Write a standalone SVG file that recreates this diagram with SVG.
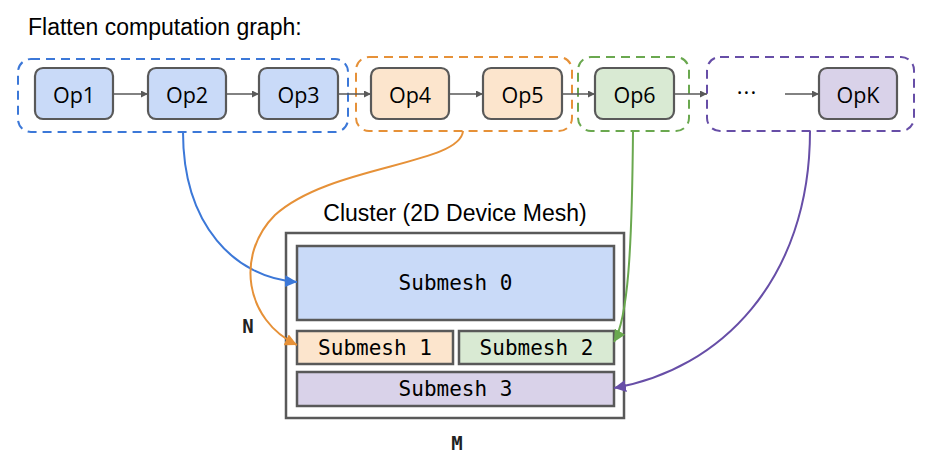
<svg xmlns="http://www.w3.org/2000/svg" width="948" height="461" viewBox="0 0 948 461">
<style>
.title{font-family:"Liberation Sans",Arial,sans-serif;font-size:23px;fill:#000}
.op rect{stroke:#595959;stroke-width:2.2}
.op text{font-family:"Open Sans","Noto Sans",sans-serif;font-size:21.5px;fill:#000;text-anchor:middle;dominant-baseline:central}
.grp{fill:none;stroke-width:2;stroke-dasharray:9 6}
.sm rect{stroke:#595959;stroke-width:2.5}
.sm text{font-family:"DejaVu Sans Mono",monospace;font-size:21px;fill:#000;text-anchor:middle;dominant-baseline:central}
.flow{stroke:#595959;stroke-width:1.5;fill:none;marker-end:url(#ag)}
.conn{fill:none;stroke-width:2}
.lbl{font-family:"DejaVu Sans Mono",monospace;font-size:19px;font-weight:bold;fill:#222;text-anchor:middle}
</style>
<defs>
<marker id="ag" viewBox="0 0 10 10" refX="10" refY="5" markerWidth="7" markerHeight="7" markerUnits="userSpaceOnUse" orient="auto"><path d="M0,0 L10,5 L0,10 z" fill="#595959"/></marker>
<marker id="ab" viewBox="0 0 10 10" refX="10" refY="5" markerWidth="12" markerHeight="12" markerUnits="userSpaceOnUse" orient="auto"><path d="M0,0 L10,5 L0,10 z" fill="#3c78d8"/></marker>
<marker id="ao" viewBox="0 0 10 10" refX="10" refY="5" markerWidth="12" markerHeight="12" markerUnits="userSpaceOnUse" orient="auto"><path d="M0,0 L10,5 L0,10 z" fill="#e69138"/></marker>
<marker id="agr" viewBox="0 0 10 10" refX="10" refY="5" markerWidth="12" markerHeight="12" markerUnits="userSpaceOnUse" orient="auto"><path d="M0,0 L10,5 L0,10 z" fill="#6aa84f"/></marker>
<marker id="ap" viewBox="0 0 10 10" refX="10" refY="5" markerWidth="12" markerHeight="12" markerUnits="userSpaceOnUse" orient="auto"><path d="M0,0 L10,5 L0,10 z" fill="#674ea7"/></marker>
</defs>
<rect width="948" height="461" fill="#ffffff"/>
<text class="title" x="28" y="35">Flatten computation graph:</text>

<g id="groups">
<rect id="grp-blue" class="grp" x="18" y="59" width="330" height="73" rx="13" stroke="#3c78d8"/>
<rect id="grp-orange" class="grp" x="356" y="57" width="216" height="74" rx="13" stroke="#e69138"/>
<rect id="grp-green" class="grp" x="578" y="57" width="111" height="74" rx="13" stroke="#6aa84f"/>
<rect id="grp-purple" class="grp" x="707" y="57" width="207" height="74" rx="13" stroke="#674ea7"/>
</g>

<g id="op1" class="op"><rect x="35" y="68" width="78" height="51" rx="8" fill="#c9daf8"/><text x="74" y="94">Op1</text></g>
<g id="op2" class="op"><rect x="148" y="68" width="78" height="51" rx="8" fill="#c9daf8"/><text x="187" y="94">Op2</text></g>
<g id="op3" class="op"><rect x="259" y="68" width="79" height="51" rx="8" fill="#c9daf8"/><text x="298.5" y="94">Op3</text></g>
<g id="op4" class="op"><rect x="371" y="68" width="78" height="51" rx="8" fill="#fce5cd"/><text x="410" y="94">Op4</text></g>
<g id="op5" class="op"><rect x="483" y="68" width="79" height="51" rx="8" fill="#fce5cd"/><text x="522.5" y="94">Op5</text></g>
<g id="op6" class="op"><rect x="595" y="68" width="79" height="51" rx="8" fill="#d9ead3"/><text x="634.5" y="94">Op6</text></g>
<g id="ellipsis"><text x="747" y="100" font-family="Open Sans, Noto Sans, sans-serif" font-size="22" letter-spacing="1" text-anchor="middle">···</text></g>
<g id="opk" class="op"><rect x="819" y="68" width="78" height="51" rx="8" fill="#d9d2e9"/><text x="858" y="94">OpK</text></g>

<g id="cluster">
<text class="title" x="455" y="221" text-anchor="middle">Cluster (2D Device Mesh)</text>
<rect x="286" y="233" width="338" height="185" fill="#ffffff" stroke="#595959" stroke-width="2.5"/>
</g>
<g id="submesh0" class="sm"><rect x="297" y="246" width="317" height="74" fill="#c9daf8"/><text x="455.5" y="283">Submesh 0</text></g>
<g id="submesh1" class="sm"><rect x="297" y="331" width="156" height="33" fill="#fce5cd"/><text x="375" y="348">Submesh 1</text></g>
<g id="submesh2" class="sm"><rect x="459" y="331" width="155" height="33" fill="#d9ead3"/><text x="536.5" y="348">Submesh 2</text></g>
<g id="submesh3" class="sm"><rect x="297" y="372" width="317" height="34" fill="#d9d2e9"/><text x="455.5" y="389">Submesh 3</text></g>

<g id="labels">
<text class="lbl" x="248" y="333">N</text>
<text class="lbl" x="457" y="450">M</text>
</g>

<g id="connectors">
<line class="flow" x1="113" y1="94" x2="148" y2="94"/>
<line class="flow" x1="226" y1="94" x2="259" y2="94"/>
<line class="flow" x1="338" y1="94" x2="371" y2="94"/>
<line class="flow" x1="449" y1="94" x2="483" y2="94"/>
<line class="flow" x1="562" y1="94" x2="595" y2="94"/>
<line class="flow" x1="674" y1="94" x2="707" y2="94"/>
<line class="flow" x1="785" y1="94" x2="819" y2="94"/>
<path class="conn" stroke="#3c78d8" marker-end="url(#ab)" d="M183,132 C183,225 235,278 297,282"/>
<path class="conn" stroke="#e69138" marker-end="url(#ao)" d="M463,131 C460,165 330,165 275,215 C235,255 245,320 297,345"/>
<path class="conn" stroke="#6aa84f" marker-end="url(#agr)" d="M633,131 C632,250 628,318 614,342"/>
<path class="conn" stroke="#674ea7" marker-end="url(#ap)" d="M810,131 C810,280 720,370 614,388"/>
</g>
</svg>
